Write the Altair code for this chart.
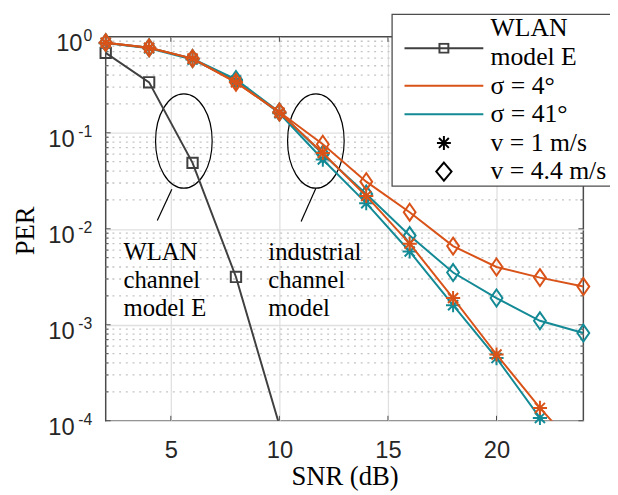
import altair as alt
import pandas as pd

# ---------------- data ----------------
snr = [2, 4, 6, 8, 10, 12, 14, 16, 18, 20, 22, 24]

wlan_snr = [2, 4, 6, 8, 10]
wlan_per = [0.68, 0.336, 0.0486, 0.00315, 0.00009]

per_s4_v1 = [0.87, 0.77, 0.594, 0.336, 0.163, 0.0617, 0.022, 0.0070, 0.0019, 0.00049, 0.000136, 0.000043]
per_s4_v44 = [0.87, 0.77, 0.594, 0.336, 0.165, 0.076, 0.031, 0.0149, 0.0066, 0.0040, 0.0031, 0.0025]
per_s41_v1 = [0.86, 0.76, 0.58, 0.35, 0.16, 0.0527, 0.0185, 0.0058, 0.0016, 0.00045, 0.000107, 0.000033]
per_s41_v44 = [0.87, 0.77, 0.594, 0.36, 0.165, 0.060, 0.023, 0.0085, 0.0035, 0.0019, 0.0011, 0.00082]

# trailing blank (U+2800) widens the legend box so that it runs off the right edge as in the reference
PADR = "\u2800\u2800"
legend_entries = ["WLAN" + PADR, "model E" + PADR, "σ = 4°" + PADR, "σ = 41°" + PADR,
                  "v = 1 m/s" + PADR, "v = 4.4 m/s" + PADR]

annot_text = ["WLAN\nchannel\nmodel E", "industrial\nchannel\nmodel"]
annot_x = [2.82, 9.49]
annot_y = [0.00474, 0.00474]

ellipse_x = [5.60, 11.68]
ellipse_y = [0.0822, 0.0822]

pointer_x = [5.045, 11.68]
pointer_y = [0.0259, 0.0265]
pointer_x2 = [4.377, 11.0]
pointer_y2 = [0.01223, 0.01194]

x_ticks = [5, 10, 15, 20]
y_major = [1e-4, 1e-3, 1e-2, 1e-1, 1.0]
y_minor = [k * 10.0 ** d for d in range(-4, 0) for k in range(2, 10)]

# ---------------- styles ----------------
ORANGE = "#D95319"
TEAL = "#138A95"
GRAY = "#404040"
AXC = "#4a4a4a"
GRIDC = "#e0e0e0"
SERIF = "Liberation Serif"
SANS = "Liberation Sans"

ASTER = "M0,-0.72L0,0.72M-0.72,0L0.72,0M-0.51,-0.51L0.51,0.51M-0.51,0.51L0.51,-0.51"
DIAM = "M0,-0.86L0.6,0L0,0.86L-0.6,0Z"
k = 0.5523
ELL = ("M0,-1C{a},-1 0.6,-{k} 0.6,0C0.6,{k} {a},1 0,1"
       "C-{a},1 -0.6,{k} -0.6,0C-0.6,-{k} -{a},-1 0,-1Z").format(a=round(0.6 * k, 4), k=k)

# legend symbol paths (unit = 47 px)
L_WLAN = ("M-0.75,-0.191L0.95,-0.191"
          "M0.004,-0.287L0.196,-0.287L0.196,-0.096L0.004,-0.096Z")
L_LINE = "M-0.75,0L0.95,0"
L_ASTER = "M0.1,-0.15L0.1,0.15M-0.05,0L0.25,0M-0.006,-0.106L0.206,0.106M-0.006,0.106L0.206,-0.106"
L_DIAM = "M0.1,-0.195L0.265,0L0.1,0.195L-0.065,0Z"
L_NONE = "M0,0L0.001,0"

xscale = alt.Scale(domain=[2, 24], nice=False, zero=False)
yscale = alt.Scale(type="log", domain=[1e-4, 1], nice=False)

# ---------------- frames ----------------
rows = []
for s, v, vals in [("41", "1", per_s41_v1), ("41", "4.4", per_s41_v44),
                   ("4", "1", per_s4_v1), ("4", "4.4", per_s4_v44)]:
    for xv, yv in zip(snr, vals):
        rows.append({"snr": xv, "per": yv, "sigma": s, "v": v, "series": s + "_" + v})
ind = pd.DataFrame(rows)
wlan = pd.DataFrame({"snr": wlan_snr, "per": wlan_per})

grid_df = pd.DataFrame({"y": y_minor, "x0": [2] * len(y_minor), "x1": [24] * len(y_minor)})

tick_rows = []
for v in y_major:
    tick_rows.append({"x": 2, "x2": 2 + 5 / 22, "y": v, "y2": v})
    tick_rows.append({"x": 24, "x2": 24 - 5 / 22, "y": v, "y2": v})
for v in y_minor:
    tick_rows.append({"x": 2, "x2": 2 + 3 / 22, "y": v, "y2": v})
    tick_rows.append({"x": 24, "x2": 24 - 3 / 22, "y": v, "y2": v})
for v in x_ticks:
    tick_rows.append({"x": v, "x2": v, "y": 1e-4, "y2": 1e-4 * 10 ** (5 / 97.25)})
    tick_rows.append({"x": v, "x2": v, "y": 1.0, "y2": 10 ** (-5 / 97.25)})
ticks_df = pd.DataFrame(tick_rows)

annot_df = pd.DataFrame({"x": annot_x, "y": annot_y, "t": annot_text})
ell_df = pd.DataFrame({"x": ellipse_x, "y": ellipse_y})
ptr_df = pd.DataFrame({"x": pointer_x, "y": pointer_y, "x2": pointer_x2, "y2": pointer_y2})
leg_df = pd.DataFrame({"entry": legend_entries, "x": [100] * 6, "y": [1.0] * 6})

# ---------------- axes ----------------
x_axis = alt.Axis(values=x_ticks, labelFont=SANS, labelFontSize=24, labelColor="#262626",
                  labelPadding=18, labelFlush=False, ticks=False, tickSize=0, domain=False,
                  grid=True, gridColor=GRIDC, gridWidth=1.3,
                  title="SNR (dB)", titleFont=SERIF, titleFontSize=27, titleFontWeight="normal",
                  titleColor="black", titleX=242, titleY=65, titleAlign="center",
                  titleBaseline="alphabetic")

base_lbl = dict(orient="left", labelFont=SANS, labelColor="#262626", labelAlign="right",
                labelBaseline="middle", labelFlush=False, labelOverlap=False,
                ticks=False, tickSize=0, domain=False)

# mantissa "10" for the negative decades
y_axis_main = alt.Axis(values=y_major[:-1], labelExpr="'10'", labelFontSize=24, labelOffset=7,
                       labelPadding=32, grid=True, gridColor=GRIDC, gridWidth=1.3,
                       title="PER", titleFont=SERIF, titleFontSize=27, titleFontWeight="normal",
                       titleColor="black", titleAngle=270, titleX=-73, titleY=196,
                       titleAlign="center", titleBaseline="alphabetic", **base_lbl)
# mantissa "10" for 10^0 (narrower exponent)
y_axis_top = alt.Axis(values=[1.0], labelExpr="'10'", labelFontSize=24, labelOffset=7,
                      labelPadding=24, grid=False, title=None, **base_lbl)
# exponents
y_axis_exp = alt.Axis(values=y_major,
                      labelExpr="datum.value > 0.5 ? '0' : '-' + round(-log(datum.value)/LN10)",
                      labelFontSize=16, labelOffset=-1, labelPadding=14, grid=False, title=None,
                      **base_lbl)

XA = lambda f: alt.X(f, type="quantitative", scale=xscale, axis=x_axis)
Y0 = lambda f: alt.Y(f, type="quantitative", scale=yscale, axis=None)

# ---------------- layers ----------------
minor_grid = alt.Chart(grid_df).mark_rule(color="#c4c4c4", strokeWidth=1.3, strokeDash=[2, 4.8]).encode(
    x=XA("x0"), x2="x1:Q",
    y=alt.Y("y:Q", scale=yscale, axis=y_axis_main))

tick_layer = alt.Chart(ticks_df).mark_rule(color=AXC, strokeWidth=1).encode(
    x=XA("x"), x2="x2:Q", y=alt.Y("y:Q", scale=yscale, axis=y_axis_exp), y2="y2:Q")

ellipses = alt.Chart(ell_df).mark_point(shape=ELL, size=9139, filled=False, color="black",
                                        strokeWidth=1.2, opacity=1).encode(
    x=XA("x"), y=alt.Y("y:Q", scale=yscale, axis=y_axis_top))
pointers = alt.Chart(ptr_df).mark_rule(color="black", strokeWidth=1.2).encode(
    x=XA("x"), y=Y0("y"), x2="x2:Q", y2="y2:Q")
texts = alt.Chart(annot_df).mark_text(align="left", baseline="alphabetic", lineBreak="\n",
                                      lineHeight=28.3, font=SERIF, fontSize=25, color="black").encode(
    x=XA("x"), y=Y0("y"), text="t:N")

wlan_line = alt.Chart(wlan).mark_line(color=GRAY, strokeWidth=2, clip=True).encode(x=XA("snr"), y=Y0("per"))
wlan_pts = alt.Chart(wlan).transform_filter("datum.per >= 0.0001").mark_point(
    shape="square", size=110, filled=False, color=GRAY, strokeWidth=2, opacity=1).encode(
    x=XA("snr"), y=Y0("per"))


def series_layers(sig, col):
    base = alt.Chart(ind).transform_filter(alt.datum.sigma == sig)
    line = base.mark_line(color=col, strokeWidth=2, clip=True).encode(
        x=XA("snr"), y=Y0("per"), detail="series:N")
    pts = base.transform_filter("datum.per >= 0.0001").mark_point(
        filled=False, color=col, strokeWidth=2, size=400, opacity=1).encode(
        x=XA("snr"), y=Y0("per"),
        shape=alt.Shape("v:N", scale=alt.Scale(domain=["1", "4.4"], range=[ASTER, DIAM]), legend=None))
    return [line, pts]


legend_layer = alt.Chart(leg_df).mark_point(filled=False, strokeWidth=2, clip=True, opacity=1).encode(
    x=XA("x"), y=Y0("y"),
    color=alt.Color("entry:N", sort=legend_entries,
                    scale=alt.Scale(domain=legend_entries,
                                    range=["rgba(0,0,0,0)", GRAY, ORANGE, TEAL, "black", "black"]),
                    legend=alt.Legend(title=None)),
    shape=alt.Shape("entry:N", sort=legend_entries,
                    scale=alt.Scale(domain=legend_entries,
                                    range=[L_NONE, L_WLAN, L_LINE, L_LINE, L_ASTER, L_DIAM]),
                    legend=alt.Legend(title=None)))

chart = alt.layer(
    minor_grid, tick_layer, ellipses, pointers, texts, wlan_line, wlan_pts,
    *series_layers("41", TEAL), *series_layers("4", ORANGE), legend_layer
).resolve_scale(color="independent", shape="independent").resolve_axis(y="independent").properties(
    width=484, height=389,
    autosize=alt.AutoSizeParams(type="none"),
    padding={"left": 99, "top": 26, "right": 27, "bottom": 72},
    background="white",
).configure_view(stroke=AXC, strokeWidth=1.5).configure_legend(
    orient="none", legendX=290, legendY=-23, padding=0, strokeColor="#4d4d4d", strokeWidth=1.3,
    fillColor="white", symbolSize=8836, symbolStrokeWidth=2, clipHeight=29, rowPadding=0,
    labelFont=SERIF, labelFontSize=26, labelColor="black", labelOffset=4, labelLimit=0,
    cornerRadius=0,
)

chart.save("out.html", embed_options={"renderer": "svg", "actions": False})
